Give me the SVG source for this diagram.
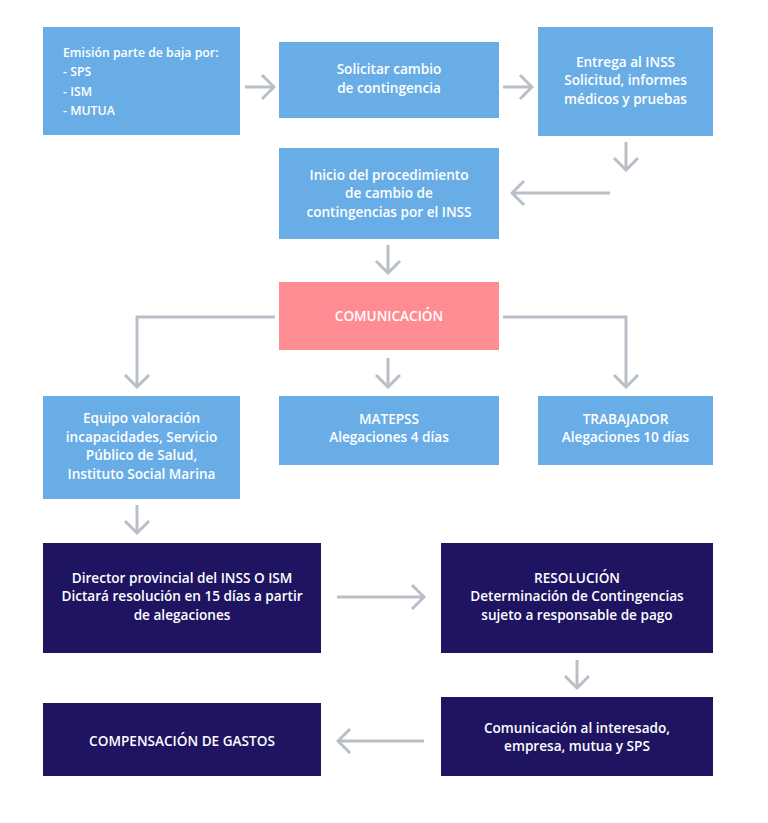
<svg xmlns="http://www.w3.org/2000/svg" width="768" height="823" viewBox="0 0 768 823">
<style>
.lb{fill:#69ade6}
.pk{fill:#ff8b93}
.nv{fill:#1e1462}
text{font-family:"Open Sans","Noto Sans",sans-serif;font-weight:600;font-size:13.6px;fill:#ffffff}
.s{font-size:12.3px}
.c{text-anchor:middle}
.ln{fill:none;stroke:#babfc7;stroke-width:3}
</style>
<defs>
<marker id="ah" viewBox="-14 -14 16 28" markerWidth="16" markerHeight="28" refX="0" refY="0" orient="auto" markerUnits="userSpaceOnUse">
<path d="M-12,-12 L0,0 L-12,12" fill="none" stroke="#babfc7" stroke-width="3"/>
</marker>
</defs>
<rect width="768" height="823" fill="#ffffff"/>
<g id="n1"><rect class="lb" x="43" y="27" width="197" height="108"/>
<text class="s" x="63" y="57">Emisión parte de baja por:</text>
<text class="s" x="63" y="76">- SPS</text>
<text class="s" x="63" y="96">- ISM</text>
<text class="s" x="63" y="115">- MUTUA</text></g>
<g id="n2"><rect class="lb" x="279" y="42" width="220" height="76"/>
<text class="c" x="389" y="74">Solicitar cambio</text>
<text class="c" x="389" y="92.5">de contingencia</text></g>
<g id="n3"><rect class="lb" x="538" y="27" width="175" height="109"/>
<text class="c" x="625.5" y="66.5">Entrega al INSS</text>
<text class="c" x="625.5" y="85">Solicitud, informes</text>
<text class="c" x="625.5" y="103.5">médicos y pruebas</text></g>
<g id="n4"><rect class="lb" x="279" y="148" width="220" height="91"/>
<text class="c" x="389" y="179.5">Inicio del procedimiento</text>
<text class="c" x="389" y="198">de cambio de</text>
<text class="c" x="389" y="216.5">contingencias por el INSS</text></g>
<g id="n5"><rect class="pk" x="279" y="282" width="220" height="68"/>
<text class="c" x="389" y="321">COMUNICACIÓN</text></g>
<g id="n6"><rect class="lb" x="43" y="396" width="197" height="103"/>
<text class="c" x="141.5" y="423">Equipo valoración</text>
<text class="c" x="141.5" y="441.5">incapacidades, Servicio</text>
<text class="c" x="141.5" y="460">Público de Salud,</text>
<text class="c" x="141.5" y="478.5">Instituto Social Marina</text></g>
<g id="n7"><rect class="lb" x="279" y="396" width="220" height="69"/>
<text class="c" x="389" y="423.5">MATEPSS</text>
<text class="c" x="389" y="442">Alegaciones 4 días</text></g>
<g id="n8"><rect class="lb" x="538" y="396" width="175" height="69"/>
<text class="c" x="625.5" y="423.5">TRABAJADOR</text>
<text class="c" x="625.5" y="442">Alegaciones 10 días</text></g>
<g id="n9"><rect class="nv" x="43" y="543" width="278" height="110"/>
<text class="c" x="182" y="582.5">Director provincial del INSS O ISM</text>
<text class="c" x="182" y="601">Dictará resolución en 15 días a partir</text>
<text class="c" x="182" y="619.5">de alegaciones</text></g>
<g id="n10"><rect class="nv" x="441" y="543" width="272" height="110"/>
<text class="c" x="577" y="582.5">RESOLUCIÓN</text>
<text class="c" x="577" y="601">Determinación de Contingencias</text>
<text class="c" x="577" y="619.5">sujeto a responsable de pago</text></g>
<g id="n11"><rect class="nv" x="441" y="697" width="272" height="79"/>
<text class="c" x="577" y="732.5">Comunicación al interesado,</text>
<text class="c" x="577" y="751">empresa, mutua y SPS</text></g>
<g id="n12"><rect class="nv" x="43" y="703" width="278" height="73"/>
<text class="c" x="182" y="746">COMPENSACIÓN DE GASTOS</text></g>
<g id="connectors">
<path class="ln" d="M245,87 H274" marker-end="url(#ah)"/>
<path class="ln" d="M503,87 H532" marker-end="url(#ah)"/>
<path class="ln" d="M626,142 V170" marker-end="url(#ah)"/>
<path class="ln" d="M610,193 H512" marker-end="url(#ah)"/>
<path class="ln" d="M388,245 V273" marker-end="url(#ah)"/>
<path class="ln" d="M275,317 H137 V387" marker-end="url(#ah)"/>
<path class="ln" d="M388,358 V387" marker-end="url(#ah)"/>
<path class="ln" d="M503,317 H626 V387" marker-end="url(#ah)"/>
<path class="ln" d="M137,505 V533" marker-end="url(#ah)"/>
<path class="ln" d="M337,597 H424" marker-end="url(#ah)"/>
<path class="ln" d="M577,660 V688" marker-end="url(#ah)"/>
<path class="ln" d="M424,741 H338" marker-end="url(#ah)"/>
</g>
</svg>
